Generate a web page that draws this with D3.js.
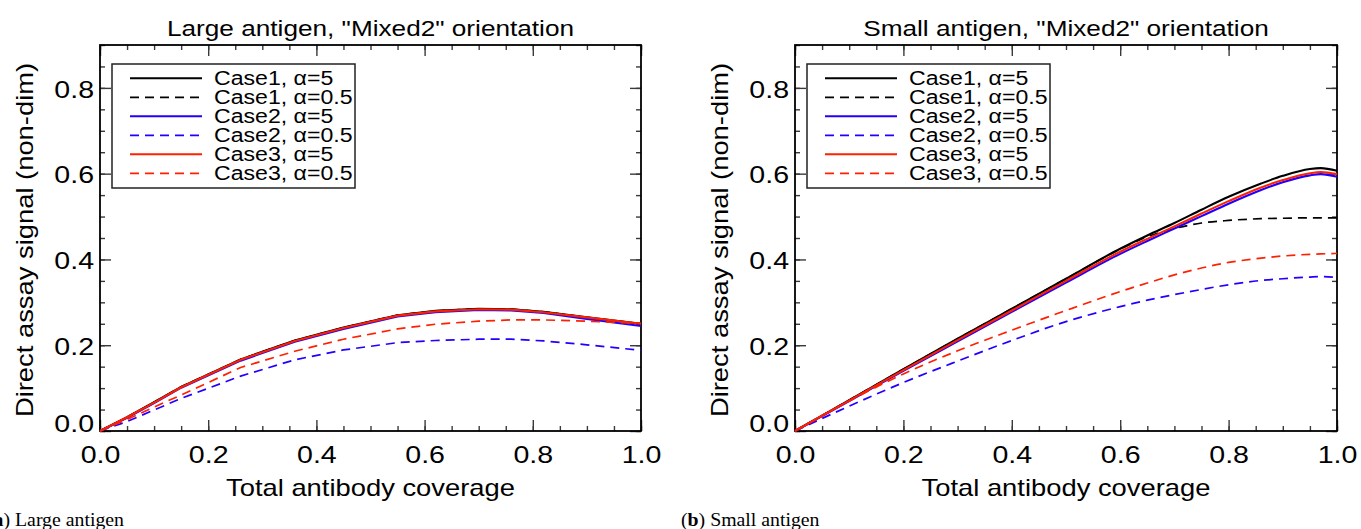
<!DOCTYPE html>
<html>
<head>
<meta charset="utf-8">
<script src="https://d3js.org/d3.v7.min.js"></script>
<style>
body { margin: 0; background: #fff; }
text { font-family: "Liberation Sans", Arial, sans-serif; fill: #000; }
.cap { font-family: "Liberation Serif", "Times New Roman", serif; }
</style>
</head>
<body>
<script>
var W = 1361, H = 529;
var stretch = 1.19;   // the original font is wider than Arial

// ---- large antigen (panel a) ----
var xLarge = [0, 0.05, 0.10, 0.15, 0.26, 0.36, 0.45, 0.55, 0.62, 0.70, 0.76, 0.82, 0.90, 1.00];
var largeC1a5  = [0, 0.032, 0.067, 0.103, 0.167, 0.211, 0.241, 0.270, 0.280, 0.285, 0.284, 0.278, 0.265, 0.250];
var largeC1a05 = [0, 0.032, 0.067, 0.103, 0.167, 0.211, 0.241, 0.270, 0.280, 0.285, 0.284, 0.278, 0.265, 0.250];
var largeC2a5  = [0, 0.031, 0.065, 0.101, 0.164, 0.208, 0.238, 0.267, 0.277, 0.282, 0.281, 0.275, 0.261, 0.245];
var largeC2a05 = [0, 0.022, 0.049, 0.076, 0.128, 0.166, 0.189, 0.206, 0.211, 0.214, 0.214, 0.210, 0.201, 0.188];
var largeC3a5  = [0, 0.032, 0.066, 0.102, 0.166, 0.210, 0.240, 0.269, 0.279, 0.284, 0.283, 0.277, 0.265, 0.250];
var largeC3a05 = [0, 0.027, 0.056, 0.084, 0.148, 0.186, 0.214, 0.238, 0.249, 0.256, 0.259, 0.259, 0.256, 0.251];

// ---- small antigen (panel b) ----
var xSmall = [0, 0.1, 0.2, 0.3, 0.4, 0.5, 0.6, 0.65, 0.7, 0.75, 0.8, 0.86, 0.9, 0.95, 0.97, 1.0];
var smallC1a5  = [0, 0.072, 0.144, 0.215, 0.285, 0.355, 0.425, 0.456, 0.485, 0.516, 0.546, 0.577, 0.595, 0.611, 0.613, 0.607];
var smallC1a05 = [0, 0.072, 0.144, 0.215, 0.285, 0.355, 0.424, 0.453, 0.472, 0.485, 0.491, 0.495, 0.496, 0.497, 0.497, 0.497];
var smallC2a5  = [0, 0.070, 0.140, 0.209, 0.278, 0.346, 0.413, 0.443, 0.472, 0.501, 0.530, 0.562, 0.580, 0.596, 0.599, 0.593];
var smallC2a05 = [0, 0.058, 0.113, 0.163, 0.211, 0.255, 0.290, 0.305, 0.318, 0.330, 0.341, 0.351, 0.355, 0.359, 0.360, 0.358];
var smallC3a5  = [0, 0.071, 0.142, 0.212, 0.281, 0.350, 0.418, 0.448, 0.477, 0.507, 0.536, 0.568, 0.585, 0.601, 0.604, 0.599];
var smallC3a05 = [0, 0.070, 0.133, 0.187, 0.235, 0.281, 0.325, 0.345, 0.364, 0.380, 0.393, 0.403, 0.408, 0.412, 0.413, 0.414];

var legendLabels = ["Case1, \u03b1=5", "Case1, \u03b1=0.5", "Case2, \u03b1=5", "Case2, \u03b1=0.5", "Case3, \u03b1=5", "Case3, \u03b1=0.5"];
var seriesColors = ["#000000", "#000000", "#2200ff", "#2200ff", "#ff2000", "#ff2000"];
var seriesDashed = [false, true, false, true, false, true];

var xTicks = [0, 0.2, 0.4, 0.6, 0.8, 1.0];
var yTicks = [0, 0.2, 0.4, 0.6, 0.8];
var xMinor = d3.range(0, 1.0001, 0.05);
var yMinor = d3.range(0, 0.9001, 0.05);

var panels = [
  { left: 100, right: 641, title: 'Large antigen, "Mixed2" orientation',
    xs: xLarge, ys: [largeC1a5, largeC1a05, largeC2a5, largeC2a05, largeC3a5, largeC3a05],
    curve: d3.curveLinear, capX: -13, capTag: "a", capText: " Large antigen" },
  { left: 795, right: 1337, title: 'Small antigen, "Mixed2" orientation',
    xs: xSmall, ys: [smallC1a5, smallC1a05, smallC2a5, smallC2a05, smallC3a5, smallC3a05],
    curve: d3.curveMonotoneX, capX: 681, capTag: "b", capText: " Small antigen" }
];

var plotTop = 45, plotBottom = 431;

var svg = d3.select("body").append("svg")
    .attr("width", W).attr("height", H);

function styleAxis(g) {
  g.attr("font-size", null).attr("font-family", null);
  g.select(".domain").remove();
  g.selectAll(".tick line").attr("stroke", "#3a3a3a").attr("stroke-width", 1.4);
  g.selectAll("text").style("font-size", "24px");
}

function drawPanel(p) {
  var x = d3.scaleLinear().domain([0, 1]).range([p.left, p.right]);
  var y = d3.scaleLinear().domain([0, 0.9]).range([plotBottom, plotTop]);
  var g = svg.append("g");
  var f = d3.format(".1f");

  // bottom
  g.append("g").attr("transform", "translate(0," + plotBottom + ")")
    .call(d3.axisBottom(x).tickValues(xMinor).tickSize(-5).tickFormat(""))
    .call(styleAxis);
  var bx = g.append("g").attr("transform", "translate(0," + plotBottom + ")")
    .call(d3.axisBottom(x).tickValues(xTicks).tickSize(-11).tickPadding(15).tickFormat(f))
    .call(styleAxis);
  bx.selectAll("text").attr("transform", "scale(" + stretch + ",1)");
  // top
  g.append("g").attr("transform", "translate(0," + plotTop + ")")
    .call(d3.axisTop(x).tickValues(xMinor).tickSize(-5).tickFormat(""))
    .call(styleAxis);
  g.append("g").attr("transform", "translate(0," + plotTop + ")")
    .call(d3.axisTop(x).tickValues(xTicks).tickSize(-11).tickFormat(""))
    .call(styleAxis);
  // left
  g.append("g").attr("transform", "translate(" + p.left + ",0)")
    .call(d3.axisLeft(y).tickValues(yMinor).tickSize(-5).tickFormat(""))
    .call(styleAxis);
  var ly = g.append("g").attr("transform", "translate(" + p.left + ",0)")
    .call(d3.axisLeft(y).tickValues(yTicks).tickSize(-11).tickPadding(5).tickFormat(f))
    .call(styleAxis);
  ly.selectAll("text")
    .attr("transform", "scale(" + stretch + ",1)")
    .attr("dy", function(d) { return d === 0 ? "0em" : "0.38em"; });
  // right
  g.append("g").attr("transform", "translate(" + p.right + ",0)")
    .call(d3.axisRight(y).tickValues(yMinor).tickSize(-5).tickFormat(""))
    .call(styleAxis);
  g.append("g").attr("transform", "translate(" + p.right + ",0)")
    .call(d3.axisRight(y).tickValues(yTicks).tickSize(-11).tickFormat(""))
    .call(styleAxis);

  g.append("rect")
    .attr("x", p.left).attr("y", plotTop)
    .attr("width", p.right - p.left).attr("height", plotBottom - plotTop)
    .attr("fill", "none").attr("stroke", "#000").attr("stroke-width", 1.8);

  var cx = (p.left + p.right) / 2;
  g.append("text")
    .attr("transform", "translate(" + cx + ",36) scale(" + stretch + ",1)")
    .attr("text-anchor", "middle").style("font-size", "22px")
    .text(p.title);
  g.append("text")
    .attr("transform", "translate(" + cx + ",496) scale(" + stretch + ",1)")
    .attr("text-anchor", "middle").style("font-size", "23px")
    .text("Total antibody coverage");
  g.append("text")
    .attr("transform", "translate(" + (p.left - 67.5) + ",240) rotate(-90) scale(" + stretch + ",1)")
    .attr("text-anchor", "middle").style("font-size", "23px")
    .text("Direct assay signal (non-dim)");

  // curves
  var line = d3.line()
    .x(function(d, i) { return x(p.xs[i]); })
    .y(function(d) { return y(d); })
    .curve(p.curve);
  p.ys.forEach(function(vals, k) {
    g.append("path")
      .attr("d", line(vals))
      .attr("fill", "none")
      .attr("stroke", seriesColors[k])
      .attr("stroke-width", seriesDashed[k] ? 1.7 : 2.1)
      .attr("stroke-dasharray", seriesDashed[k] ? "9,6" : null);
  });

  // legend
  var lg = g.append("g").attr("transform", "translate(" + (p.left + 12) + ",64)");
  lg.append("rect").attr("width", 243).attr("height", 124)
    .attr("fill", "#fff").attr("stroke", "#222").attr("stroke-width", 1.5);
  legendLabels.forEach(function(lab, k) {
    var ry = 14.3 + k * 19;
    lg.append("line")
      .attr("x1", 18).attr("x2", 90).attr("y1", ry).attr("y2", ry)
      .attr("stroke", seriesColors[k])
      .attr("stroke-width", seriesDashed[k] ? 1.7 : 2.1)
      .attr("stroke-dasharray", seriesDashed[k] ? "9,6" : null);
    lg.append("text")
      .attr("transform", "translate(102," + (ry + 6.5) + ") scale(1.1,1)")
      .style("font-size", "21px")
      .text(lab);
  });

  // caption under the panel
  var cap = svg.append("text").attr("class", "cap")
    .attr("transform", "translate(" + p.capX + ",526) scale(1.1,1)")
    .style("font-size", "18px");
  cap.append("tspan").text("(");
  cap.append("tspan").style("font-weight", "bold").text(p.capTag);
  cap.append("tspan").text(")" + p.capText);
}

panels.forEach(drawPanel);
</script>
</body>
</html>
